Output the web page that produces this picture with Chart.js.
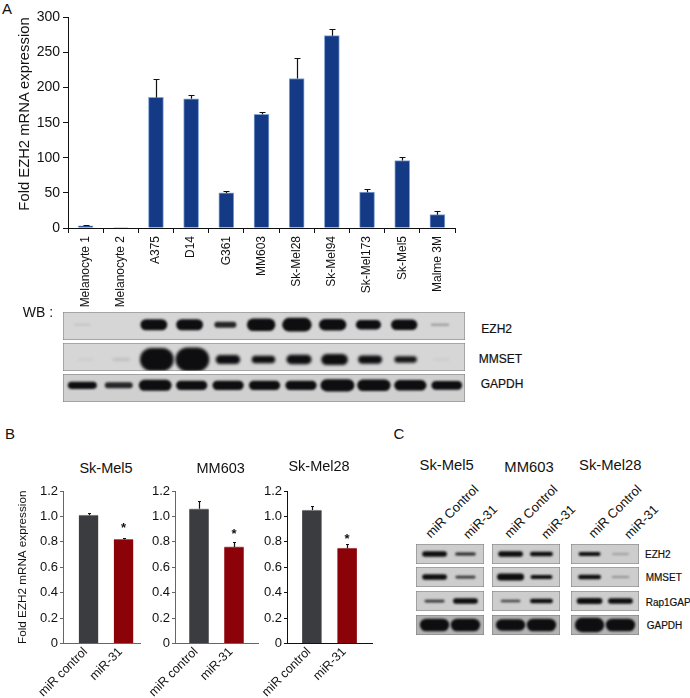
<!DOCTYPE html>
<html>
<head>
<meta charset="utf-8">
<title>EZH2 expression</title>
<script src="https://cdn.jsdelivr.net/npm/chart.js@4"></script>
<style>
  html, body { margin: 0; padding: 0; background: #fff; }
  #page { position: relative; width: 690px; height: 698px; overflow: hidden; font-family: "Liberation Sans", Arial, sans-serif; color: #111; }
  canvas { position: absolute; }
  .lbl { position: absolute; white-space: nowrap; transform: translate(-50%, -50%); }
  .left { position: absolute; white-space: nowrap; transform: translate(0, -50%); -webkit-text-stroke: 0.2px #111; }
  .rot { position: absolute; white-space: nowrap; transform-origin: 100% 50%; transform: translate(-100%, -50%) rotate(-45deg); }
  .vert { position: absolute; white-space: nowrap; transform: translate(-50%, -50%) rotate(-90deg); }
</style>
</head>
<body>
<div id="page"></div>
<script>
// panel A
const cellLines = ["Melanocyte 1", "Melanocyte 2", "A375", "D14", "G361", "MM603", "Sk-Mel28", "Sk-Mel94", "Sk-Mel173", "Sk-Mel5", "Malme 3M"];
const foldEzh2 = [3, 0.5, 186, 184, 50, 162, 213, 274, 51, 96, 19];
const foldEzh2Err = [1, 0, 26, 6, 3, 3, 29, 10, 5, 5, 5];

// western blot signal per lane, panel A
const wbEzh2 = [0.05, 0, 1, 1, 0.55, 1.15, 1.25, 1.05, 0.85, 0.95, 0.2];
const wbMmset = [0.03, 0.1, 2.1, 2.2, 0.8, 0.7, 0.85, 1, 0.75, 0.6, 0.03];
const wbGapdh = [0.65, 0.55, 1, 0.85, 0.85, 0.85, 0.85, 1.1, 1.05, 0.95, 0.8];

// panel B
const treatments = ["miR control", "miR-31"];
const skMel5Fold = [1.01, 0.82];
const skMel5Err = [0.015, 0.01];
const mm603Fold = [1.06, 0.76];
const mm603Err = [0.065, 0.035];
const skMel28Fold = [1.05, 0.75];
const skMel28Err = [0.035, 0.03];

// panel C, two lanes per blot
const cBlotNames = ["EZH2", "MMSET", "Rap1GAP", "GAPDH"];
const cSkMel5 = [[1, 0.55], [1, 0.5], [0.5, 1], [2.3, 2.3]];
const cMm603 = [[1, 0.8], [1.25, 0.7], [0.45, 0.8], [2.1, 2.3]];
const cSkMel28 = [[0.7, 0.15], [0.8, 0.2], [1.1, 1], [2.6, 2.3]];

const FONT = '"Liberation Sans", Arial, sans-serif';
const page = document.getElementById("page");
Chart.defaults.font.family = FONT;
Chart.defaults.color = "#111";
Chart.defaults.animation = false;

function addText(cls, text, x, y, size) {
  const d = document.createElement("div");
  d.className = cls;
  d.textContent = text;
  d.style.left = x + "px";
  d.style.top = y + "px";
  d.style.fontSize = size + "px";
  page.appendChild(d);
}

function addCanvas(x, y, w, h) {
  const c = document.createElement("canvas");
  c.width = w;
  c.height = h;
  c.style.left = x + "px";
  c.style.top = y + "px";
  c.style.width = w + "px";
  c.style.height = h + "px";
  page.appendChild(c);
  return c;
}

// error bars, upper arm only
const errorBars = {
  id: "errorBars",
  afterDatasetsDraw(chart) {
    const ds = chart.data.datasets[0];
    const ctx = chart.ctx;
    const meta = chart.getDatasetMeta(0);
    ctx.save();
    ctx.strokeStyle = "#111";
    ctx.lineWidth = 1.2;
    ds.errors.forEach((e, i) => {
      if (!e) return;
      const x = Math.round(meta.data[i].x) + 0.5;
      const y0 = chart.scales.y.getPixelForValue(ds.values[i]);
      const y1 = Math.round(chart.scales.y.getPixelForValue(ds.values[i] + e)) + 0.5;
      ctx.beginPath();
      ctx.moveTo(x, y0);
      ctx.lineTo(x, y1);
      ctx.moveTo(x - ds.capSize, y1);
      ctx.lineTo(x + ds.capSize, y1);
      ctx.stroke();
    });
    if (ds.starLevel) {
      ctx.fillStyle = "#111";
      ctx.font = "bold 13px " + FONT;
      ctx.textAlign = "center";
      ctx.textBaseline = "middle";
      ctx.fillText("*", meta.data[1].x, chart.scales.y.getPixelForValue(ds.starLevel) + 3);
    }
    ctx.restore();
  }
};

// blurred western blot bands on a grey membrane
const blotBands = {
  id: "blotBands",
  beforeDraw(chart) {
    const a = chart.chartArea;
    const ctx = chart.ctx;
    ctx.save();
    ctx.fillStyle = chart.options.plugins.blotBands.paper;
    ctx.fillRect(a.left, a.top, a.width, a.height);
    ctx.restore();
  },
  afterDraw(chart) {
    const o = chart.options.plugins.blotBands;
    const a = chart.chartArea;
    const ctx = chart.ctx;
    const lane = chart.scales.x.getPixelForValue(2) - chart.scales.x.getPixelForValue(1);
    ctx.save();
    ctx.beginPath();
    ctx.rect(a.left, a.top, a.width, a.height);
    ctx.clip();
    ctx.filter = "blur(" + o.blur + "px)";
    chart.getDatasetMeta(0).data.forEach((pt, i) => {
      const s = o.signal[i];
      if (!s) return;
      const w = lane * Math.min(0.95, o.wBase + 0.3 * s);
      const h = Math.max(2, o.hUnit * s);
      ctx.fillStyle = "rgba(14,14,16," + Math.min(1, s * 1.6) + ")";
      ctx.beginPath();
      ctx.roundRect(pt.x - w / 2, pt.y - h / 2, w, h, h / 2);
      ctx.fill();
    });
    ctx.filter = "none";
    ctx.strokeStyle = "#767676";
    ctx.lineWidth = 1;
    ctx.strokeRect(a.left, a.top, a.width, a.height);
    ctx.restore();
  }
};

function blot(x, y, w, h, signal, xRange, yRange, o) {
  const lanes = signal.map((s, i) => ({ x: i + 1, y: 0 }));
  new Chart(addCanvas(x, y, w, h), {
    type: "scatter",
    data: { datasets: [{ data: lanes, pointRadius: 0 }] },
    options: {
      responsive: false,
      layout: { padding: 1 },
      scales: {
        x: { type: "linear", display: false, min: xRange[0], max: xRange[1] },
        y: { type: "linear", display: false, min: yRange[0], max: yRange[1] }
      },
      plugins: {
        legend: { display: false },
        tooltip: { enabled: false },
        blotBands: { signal: signal, paper: o.paper, hUnit: o.hUnit, wBase: o.wBase, blur: o.blur }
      }
    },
    plugins: [blotBands]
  });
}

// panel A bars
new Chart(addCanvas(16, 6, 449, 304), {
  type: "bar",
  data: {
    labels: cellLines,
    datasets: [{
      data: foldEzh2,
      values: foldEzh2,
      errors: foldEzh2Err,
      capSize: 3,
      backgroundColor: "#153a85",
      borderColor: "#86a4d6",
      borderWidth: { left: 1, right: 1, top: 1, bottom: 0 },
      barThickness: 15
    }]
  },
  options: {
    responsive: false,
    layout: { padding: { top: 10.5, right: 10, left: 0, bottom: 0 } },
    scales: {
      x: {
        offset: true,
        afterFit: s => { s.height = 82; s.paddingLeft = 0; s.paddingRight = 0; },
        border: { color: "#111", width: 1 },
        grid: { drawOnChartArea: false, tickLength: 5, color: "#111" },
        ticks: { autoSkip: false, minRotation: 90, maxRotation: 90, padding: 3, font: { size: 12 } }
      },
      y: {
        min: 0,
        max: 300,
        afterFit: s => { s.width = 52; },
        border: { color: "#111", width: 1 },
        grid: { drawOnChartArea: false, tickLength: 5, color: "#111" },
        ticks: { stepSize: 50, padding: 3, font: { size: 14 } }
      }
    },
    plugins: { legend: { display: false }, tooltip: { enabled: false } }
  },
  plugins: [errorBars]
});

// panel A blots
const paperA = "#d6d6d6";
blot(62, 311, 404, 30, wbEzh2, [0.46, 11.7], [-1.09, 0.91], { paper: paperA, hUnit: 11, wBase: 0.45, blur: 1.2 });
blot(62, 342, 404, 30, wbMmset, [0.36, 11.67], [-0.82, 1.18], { paper: paperA, hUnit: 11, wBase: 0.45, blur: 1.4 });
blot(62, 373, 404, 30, wbGapdh, [0.47, 11.5], [-1.19, 0.81], { paper: "#d0d0d0", hUnit: 11, wBase: 0.6, blur: 1 });

// panel B bars
function foldChart(x, area, vals, errs, starLevel, xRange, axisColor, withTitle) {
  new Chart(addCanvas(x, 481, area.right + 6 - x, 217), {
    type: "bar",
    data: {
      datasets: [{
        data: vals.map((v, i) => ({ x: i, y: v })),
        values: vals,
        errors: errs,
        capSize: 1.5,
        starLevel: starLevel,
        backgroundColor: ["#3b3c40", "#8b0209"],
        borderColor: ["#8e8f92", "#b25a5e"],
        borderWidth: { left: 0, right: 0, top: 1, bottom: 0 },
        barThickness: 19.5
      }]
    },
    options: {
      responsive: false,
      layout: { padding: { top: 10, right: 6, left: 0, bottom: 0 } },
      scales: {
        x: {
          type: "linear",
          offset: false,
          min: xRange[0],
          max: xRange[1],
          afterFit: s => { s.height = 217 - 10 - 152.5; s.paddingLeft = 0; s.paddingRight = 0; },
          afterBuildTicks: s => { s.ticks = treatments.map((t, i) => ({ value: i })); },
          border: { color: axisColor, width: 1 },
          grid: { display: false },
          ticks: {
            autoSkip: false,
            minRotation: 45,
            maxRotation: 45,
            padding: -7,
            labelOffset: -3,
            font: { size: 12.5 },
            callback: v => treatments[v]
          }
        },
        y: {
          min: 0,
          max: 1.2,
          afterFit: s => { s.width = area.left - x; },
          title: { display: withTitle, text: "Fold EZH2 mRNA expression", font: { size: 11.7 }, padding: 0 },
          border: { color: axisColor, width: 1 },
          grid: { drawOnChartArea: false, tickLength: 3, color: axisColor },
          ticks: { stepSize: 0.2, padding: 2, font: { size: 13 }, callback: v => (v === 0 ? "0" : v.toFixed(1)) }
        }
      },
      plugins: { legend: { display: false }, tooltip: { enabled: false } }
    },
    plugins: [errorBars]
  });
}

foldChart(16, { left: 63, right: 140 }, skMel5Fold, skMel5Err, 0.932, [-0.73, 1.47], "#666", true);
foldChart(130, { left: 175, right: 258 }, mm603Fold, mm603Err, 0.88, [-0.686, 1.686], "#666", false);
foldChart(240, { left: 287, right: 372 }, skMel28Fold, skMel28Err, 0.84, [-0.706, 1.706], "#111", false);

// panel C blots
const cColumns = [
  { left: 415, signal: cSkMel5 },
  { left: 491, signal: cMm603 },
  { left: 570, signal: cSkMel28 }
];
const cRowTops = [543, 566, 590, 614];
cColumns.forEach(col => {
  col.signal.forEach((sig, r) => {
    const last = r === 3;
    blot(col.left, cRowTops[r], 70, 22, sig, [0.4, 2.6], [-1, 1], { paper: last ? "#b4b4b4" : "#cdcdcd", hUnit: 5.5, wBase: 0.5, blur: last ? 1.3 : 0.8 });
  });
});

// text
addText("lbl", "A", 7, 8, 15);
addText("lbl", "B", 10, 433, 15);
addText("lbl", "C", 399, 433, 15);
addText("lbl", "WB :", 38, 312, 14);
addText("vert", "Fold EZH2 mRNA expression", 24, 114, 14.8);
addText("left", "EZH2", 481.3, 329.3, 12);
addText("left", "MMSET", 478.7, 359.3, 12);
addText("left", "GAPDH", 480.7, 384.3, 12);
addText("lbl", "Sk-Mel5", 106, 468, 14.5);
addText("lbl", "MM603", 220.7, 467.7, 14.5);
addText("lbl", "Sk-Mel28", 319, 466, 14.5);
addText("lbl", "Sk-Mel5", 446.7, 465, 14.8);
addText("lbl", "MM603", 529, 466.7, 14.8);
addText("lbl", "Sk-Mel28", 610.3, 465, 14.8);
const cNameX = [645, 645.7, 645.7, 646.7];
const cNameY = [554, 576.7, 602.3, 625.3];
cBlotNames.forEach((n, i) => addText("left", n, cNameX[i], cNameY[i], 10));
[[475.7, 486.7, 495, 507], [555, 486.7, 573.3, 507], [639, 486.7, 655.7, 507]].forEach(p => {
  addText("rot", "miR Control", p[0], p[1], 13);
  addText("rot", "miR-31", p[2], p[3], 13);
});
</script>
</body>
</html>
